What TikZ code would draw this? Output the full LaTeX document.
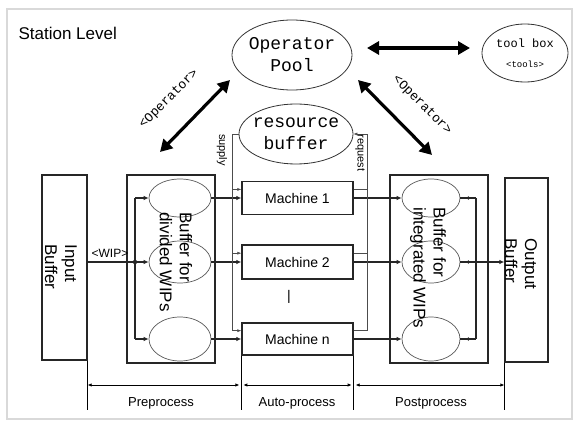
\documentclass[tikz,border=0pt]{standalone}
\usepackage{fontspec}
\setmainfont{Liberation Sans}
\setsansfont{Liberation Sans}
\setmonofont{Liberation Mono}
\usetikzlibrary{arrows.meta,shapes.geometric,positioning,calc}

\tikzset{
  boxnode/.style={draw=black!85, line width=1.3pt, inner sep=0pt},
  poolnode/.style={draw=black!80, ellipse, line width=0.8pt, inner sep=-6pt,
    font=\ttfamily\fontsize{18}{22}\selectfont, align=center},
  bufell/.style={draw=black!65, ellipse, line width=0.7pt, minimum width=60pt, inner sep=0pt},
  rotlbl/.style={rotate=-90, align=left, font=\fontsize{17}{20}\selectfont},
  flow/.style={line width=1.3pt, black!85, -{Latex[length=5pt,width=4.5pt]}},
  flowline/.style={line width=1.3pt, black!85},
  thinline/.style={line width=0.5pt, black!70},
  thinflow/.style={thinline, -{Latex[length=4pt,width=3pt]}},
  bigarrow/.style={line width=3.2pt, {Triangle[length=12pt,width=13pt]}-{Triangle[length=12pt,width=13pt]}},
  dimline/.style={line width=0.8pt, {Latex[length=4pt,width=3.5pt]}-{Latex[length=4pt,width=3.5pt]}},
  junction/.style={circle, fill=black!85, inner sep=1.6pt},
  smallsans/.style={font=\fontsize{13}{15}\selectfont},
}

\begin{document}
\begin{tikzpicture}[x=1pt, y=-1pt]
  \useasboundingbox (0,0) rectangle (576,425);
  \fill[white] (0,0) rectangle (576,425);
  \draw[black!15, line width=2pt] (7,9) rectangle (572,419);

  % top level
  \node[anchor=west, font=\fontsize{17}{20}\selectfont] (title) at (15,33) {Station Level};
  \node[poolnode, minimum width=120pt, minimum height=70pt] (op) at (292,55) {Operator\\Pool};
  \node[poolnode, minimum width=114pt, minimum height=60pt] (res) at (296,134) {resource\\buffer};
  \node[draw=black!80, ellipse, line width=0.8pt, minimum width=86pt, minimum height=58pt,
    inner sep=-4pt, align=center, font=\ttfamily\fontsize{12}{20}\selectfont] (tool) at (525,53)
    {tool box\\{\fontsize{9}{10}\selectfont <tools>}};

  % operator arrows
  \coordinate (aL1) at (230,80);
  \coordinate (aL2) at (160,152);
  \coordinate (aR1) at (358,80);
  \coordinate (aR2) at (432,155);
  \coordinate (aT1) at (367,48);
  \coordinate (aT2) at (470,48);
  \draw[bigarrow] (aL2) -- (aL1);
  \draw[bigarrow] (aR1) -- (aR2);
  \draw[bigarrow] (aT1) -- (aT2);
  \node[rotate=45, font=\ttfamily\fontsize{13}{15}\selectfont] (oplblL) at (169,99) {<Operator>};
  \node[rotate=-45, font=\ttfamily\fontsize{13}{15}\selectfont] (oplblR) at (422,105) {<Operator>};

  % buffers and boxes
  \node[boxnode, minimum width=45pt, minimum height=185pt] (inbuf) at (64.5,267.5) {};
  \node[rotlbl] (inlbl) at (61,267) {Input\\Buffer};
  \node[boxnode, minimum width=88pt, minimum height=188pt] (pre) at (171,269) {};
  \node[boxnode, minimum width=98pt, minimum height=188pt] (post) at (439,269) {};
  \node[boxnode, minimum width=43pt, minimum height=184pt] (outbuf) at (526.5,270) {};
  \node[rotlbl] (outlbl) at (521,264) {Output\\Buffer};

  \node[bufell, minimum width=62pt, minimum height=38pt] (pe1) at (180,198) {};
  \node[bufell, minimum width=62pt, minimum height=42pt] (pe2) at (180,262) {};
  \node[bufell, minimum width=62pt, minimum height=44pt] (pe3) at (180,339) {};
  \node[bufell, minimum width=58pt, minimum height=38pt] (qe1) at (431,198) {};
  \node[bufell, minimum width=58pt, minimum height=42pt] (qe2) at (431,262) {};
  \node[bufell, minimum width=58pt, minimum height=44pt] (qe3) at (431,339) {};
  \node[rotlbl] (prelbl) at (176,262) {Buffer for\\divided WIPs};
  \node[rotlbl] (postlbl) at (428,268) {Buffer for\\integrated WIPs};

  % machines
  \node[boxnode, minimum width=111pt, minimum height=33pt, font=\fontsize{14}{16}\selectfont] (m1) at (297.5,198) {Machine 1};
  \node[boxnode, minimum width=111pt, minimum height=34pt, font=\fontsize{14}{16}\selectfont] (m2) at (297.5,262) {Machine 2};
  \node[boxnode, minimum width=111pt, minimum height=32pt, font=\fontsize{14}{16}\selectfont] (mn) at (297.5,339) {Machine n};
  \node[font=\fontsize{14}{16}\selectfont] (vdots) at (289,297) {|};

  % preprocess flow
  \coordinate (bx) at (135,0);
  \draw[flowline] (bx |- pe1.west) -- (bx |- pe3.west);
  \draw[flowline] (inbuf.east |- pe2.west) -- (bx |- pe2.west);
  \foreach \e in {pe1,pe2,pe3}
    \draw[flow] (bx |- \e.west) -- (\e.west);
  \node[junction] (jl) at (bx |- pe2.west) {};
  \node[font=\fontsize{12}{14}\selectfont] (wiplbl) at (110,253) {<WIP>};

  % machine and postprocess flow
  \coordinate (by) at (476,0);
  \foreach \e/\m/\q in {pe1/m1/qe1, pe2/m2/qe2, pe3/mn/qe3} {
    \draw[flow] (\e.east) -- (\m.west);
    \draw[flow] (\m.east) -- (\q.west);
    \draw[flowline] (\q.east) -- (by |- \q.east);
    \node[junction, inner sep=1.3pt] (\q dot) at ($(\q.east)+(8,0)$) {};
  }
  \draw[flowline] (by |- qe1.east) -- (by |- qe3.east);
  \draw[flow] (by |- qe2.east) -- (outbuf.west |- qe2.east);

  % supply and request
  \coordinate (sx) at (232,0);
  \coordinate (rx) at (367,0);
  \foreach \m in {m1,m2,mn} {
    \coordinate (\m sl) at ($(\m.north west)!0.25!(\m.south west)$);
    \coordinate (\m sr) at ($(\m.north east)!0.25!(\m.south east)$);
    \draw[thinflow] (sx |- \m sl) -- (\m sl);
    \draw[thinline] (\m sr) -- (rx |- \m sr);
  }
  \draw[thinline] (res.west) -- (sx |- res.west) -- (sx |- mnsl);
  \draw[thinflow] (rx |- mnsr) -- (rx |- res.east) -- (res.east);
  \node[rotate=-90, font=\fontsize{11}{13}\selectfont] (suplbl) at (222,150) {supply};
  \node[rotate=-90, font=\fontsize{11}{13}\selectfont] (reqlbl) at (360,153) {request};

  % process spans
  \coordinate (bot) at (0,410);
  \coordinate (dim) at (0,385);
  \draw[thinline, black] (inbuf.south east) -- (inbuf.south east |- bot);
  \draw[thinline, black] (mn.south west) -- (mn.south west |- bot);
  \draw[thinline, black] (mn.south east) -- (mn.south east |- bot);
  \draw[thinline, black] (outbuf.south west) -- (outbuf.south west |- bot);
  \draw[dimline] (inbuf.south east |- dim) -- ([xshift=-2pt]mn.south west |- dim);
  \draw[dimline] ([xshift=2pt]mn.south west |- dim) -- ([xshift=-2pt]mn.south east |- dim);
  \draw[dimline] ([xshift=2pt]mn.south east |- dim) -- (outbuf.south west |- dim);
  \node[smallsans] (prespan) at (161,403) {Preprocess};
  \node[smallsans] (autospan) at (297,403) {Auto-process};
  \node[smallsans] (postspan) at (431,403) {Postprocess};
\end{tikzpicture}
\end{document}
